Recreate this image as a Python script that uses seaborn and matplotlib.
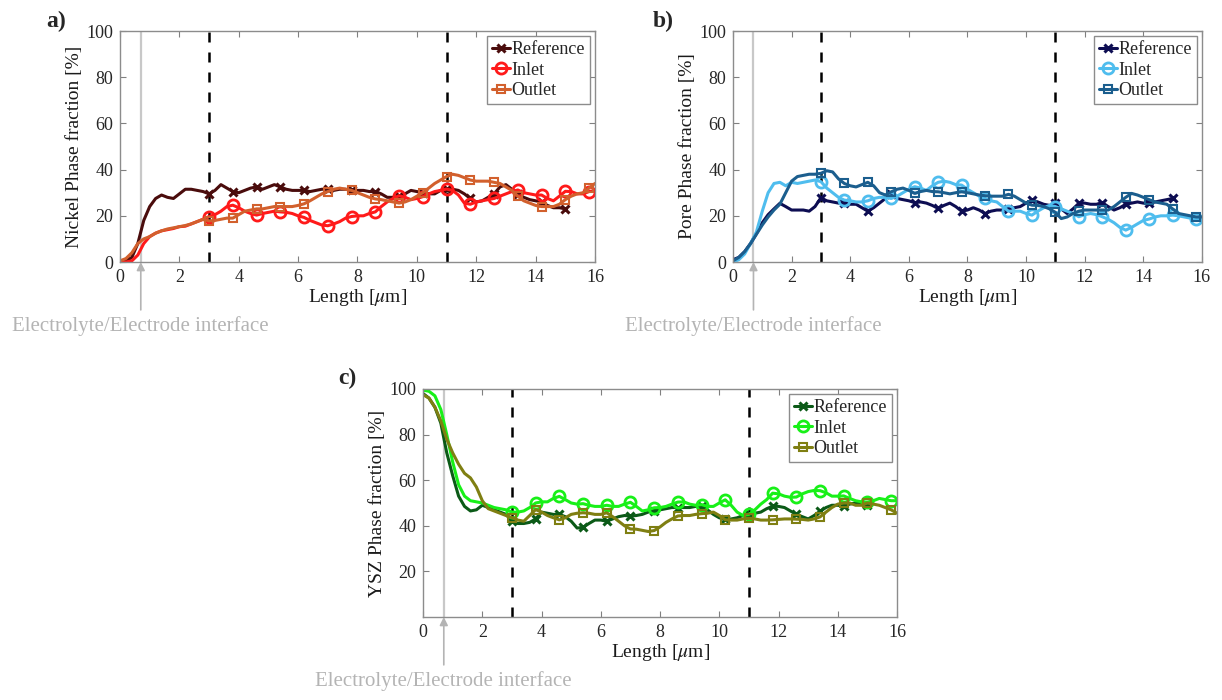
import numpy as np
import pandas as pd
import matplotlib
matplotlib.use("Agg")
import matplotlib.pyplot as plt
import seaborn as sns

# ---------------- data ----------------
STEP = 0.2  # sampling step of the profiles [um]

# panel a) Nickel
ni_reference = [0, 0.5, 2, 8, 18, 24, 27.5, 29, 28, 27.5, 29.5, 31.5, 31.5, 31, 30.5, 29.5, 31, 33.5, 32, 30.5,
                30, 31, 32, 32.5, 31.5, 32.5, 33.5, 32.5, 31.5, 31, 31, 31, 30.5, 31, 31.5, 31.5, 31, 31.5, 31.5, 31,
                31, 31, 30.5, 30.5, 29.5, 28, 28, 28.5, 29.5, 31, 30.5, 30, 29.5, 29.5, 31, 31.5, 31.5, 31, 29.5, 27.5,
                26, 26.5, 28, 29.5, 32.5, 33.5, 31.5, 29.5, 28, 27, 26.5, 26, 24.5, 23.5, 23.5, 23]
ni_inlet = [0, 0, 0.5, 3, 8, 11, 12.5, 13.5, 14, 14.5, 15.3, 15.5, 16.5, 17.5, 18.5, 19.7, 20.5, 22, 24, 24.6,
            23.5, 22, 21, 20.3, 21, 21.5, 22, 21.7, 21.5, 21, 20, 19.3, 18, 17, 16, 15.7, 16.5, 17.5, 19, 19.7,
            20, 20, 21, 21.7, 24, 26, 27.5, 28.7, 28, 27, 27.5, 28.3, 29.5, 30.5, 31, 31.6, 31, 29, 25.5, 25,
            26, 26.5, 27, 27.5, 28.5, 29.5, 30.5, 31.2, 30, 29.5, 29, 29, 27.5, 26.5, 28.5, 30.6, 30.5, 29.5, 29.5, 30.5,
            31]
ni_outlet = [0.5, 1.5, 4, 8, 10, 11, 12.5, 13.5, 14.3, 14.8, 15.3, 15.8, 16.5, 17.5, 18.5, 17.8, 18, 18.5, 19, 19,
             20.5, 22, 22.5, 23, 23, 23.5, 24, 24, 24, 24, 24.5, 25.2, 26.5, 28, 29.5, 30.5, 31.5, 32, 31.5, 31,
             30, 29, 28, 27.3, 27, 26.5, 26, 25.5, 26, 27, 28.5, 30, 32, 34, 35.5, 37, 38, 37.5, 36.5, 35.5,
             35, 35, 35, 34.5, 34, 32.5, 31, 28.5, 26.5, 25.5, 24.5, 24, 24, 24, 25, 27, 28.5, 29.5, 30, 32,
             34]

# panel b) Pore
pore_reference = [1, 2, 4.5, 8, 12.3, 17, 20.5, 23, 25.4, 24, 22.5, 22.5, 22.5, 22, 24, 27.8, 26.5, 26, 25.5, 25.4,
                  25, 25, 23.5, 22, 23.5, 25.5, 27.5, 29.3, 27.5, 27, 26.5, 25.7, 26, 25.5, 24.5, 23.2, 24.5, 25.5, 24, 22,
                  22.5, 23.5, 22.5, 21, 22, 22.5, 22.5, 23, 23.5, 24, 25.5, 26.8, 26, 25, 24.5, 25.4, 23, 21, 23, 25.4,
                  25.5, 25, 25, 25.7, 24, 22.5, 23.5, 25, 25.5, 26, 25.5, 25.4, 26, 26.5, 27, 27.5]
pore_inlet = [0, 1, 3.5, 8, 13, 22, 30, 34, 34.5, 33, 34.5, 34, 34.5, 35, 35.5, 34.8, 32, 30, 28, 26.8,
              26.5, 26, 26, 26.5, 27.5, 28, 28, 27.5, 28.5, 30, 31.5, 32.6, 32, 31, 33, 34.5, 35, 34.5, 33.5, 33.3,
              31.5, 30, 28.5, 27.5, 26.5, 26, 24, 22, 22, 22, 21, 20.3, 22, 23.5, 24.5, 24, 23, 22, 21, 19.6,
              20.5, 21, 20.5, 19.6, 18.5, 17, 15, 13.8, 15, 16.5, 18, 18.6, 19.5, 20, 20, 20.3, 20, 19.5, 19, 18.5,
              19]
pore_outlet = [0.5, 2, 4.5, 8, 12, 16, 19.5, 22.5, 25, 30, 35, 37, 37.5, 38, 38, 38.4, 39.5, 39, 36, 34,
               33, 32.5, 33.5, 34.5, 33, 30, 29, 30.4, 31.5, 32, 31, 29.7, 30.5, 31, 30.5, 30.4, 30, 29.5, 30, 30.4,
               30, 29.5, 29, 28.7, 28.5, 28.5, 28.5, 29.3, 28.5, 27, 25.5, 24.6, 24.5, 24, 23, 21.5, 18.8, 19.5, 21, 22,
               22.5, 22.5, 22.5, 22.5, 22.5, 24, 26, 28, 29.7, 29, 28, 27, 26, 25.5, 25, 23, 21, 20.5, 20, 19.5,
               19.5]

# panel c) YSZ
ysz_reference = [98, 96, 92, 85, 72, 62, 53, 48.5, 46.5, 47, 49, 48, 47, 46, 45, 42, 41, 41, 41.5, 43,
                 46, 45.5, 45, 45, 44, 42, 39, 39.3, 41, 42.5, 42.5, 42, 43, 44, 44.5, 44.3, 44.5, 45, 46, 46.4,
                 47, 47.5, 48, 48, 48, 48, 48.5, 48.6, 47, 45, 43.5, 42.9, 43, 43.5, 44.5, 45, 45.5, 46, 47.5, 48.6,
                 48.5, 48, 46.5, 45, 44, 43, 44.5, 46.4, 48, 49, 49, 48.6, 49.5, 50, 49.5, 49.3]
ysz_inlet = [99.5, 99, 97, 91, 80, 68, 58, 53, 51, 50.5, 50, 49, 48, 47.5, 47, 46, 46, 46.5, 48, 50,
             50.5, 50.5, 52, 52.9, 51.5, 50, 49.5, 49.7, 49, 48.5, 48.5, 49, 48.5, 48.5, 49.5, 50.3, 48.5, 46.5, 47, 47.9,
             48, 48.5, 49.5, 50.4, 50.5, 49.5, 49, 49.3, 48.5, 48.5, 50, 51.4, 49, 46, 44.5, 45, 47, 49.5, 51.5, 54.3,
             54, 53, 52.5, 52.6, 54, 55, 55.5, 55.4, 54.5, 53, 53, 53.1, 52, 51, 50.5, 50.4, 51, 52, 51.5, 51,
             51]
ysz_outlet = [97.5, 96, 92, 86, 78, 72, 67, 63, 61, 57, 51, 47.5, 46.5, 45.5, 44.5, 43.6, 42.5, 42, 44.5, 47.1,
              46, 44.5, 43.5, 42.6, 43.5, 45, 45.5, 45.7, 45.5, 45, 45, 45.7, 44, 42, 40, 38.6, 38.5, 38, 37.5, 37.9,
              39.5, 41.5, 43, 44.3, 44.5, 44.5, 45, 45.3, 45.5, 46, 44.5, 42.6, 42.5, 42.5, 43, 43.3, 43, 42.5, 42.5, 42.6,
              42.8, 43, 43, 42.9, 42.8, 42.5, 43, 43.9, 46, 48, 49.5, 50, 50, 49, 49, 50, 49.5, 49, 48, 47,
              45.5]

series_names = ["Reference", "Inlet", "Outlet"]
panel_letters = ["a)", "b)", "c)"]
y_labels = ["Nickel Phase fraction [%]", "Pore Phase fraction [%]", "YSZ Phase fraction [%]"]
x_label = r"Length [$\mu$m]"
interface_text = "Electrolyte/Electrode interface"
interface_pos = 0.7
zone_bounds = [3, 11]
x_ticks = [0, 2, 4, 6, 8, 10, 12, 14, 16]

panels = [
    dict(data=[ni_reference, ni_inlet, ni_outlet],
         colors=["#4a0c0c", "#ff1a1a", "#d2602d"], yticks=[0, 20, 40, 60, 80, 100]),
    dict(data=[pore_reference, pore_inlet, pore_outlet],
         colors=["#0d0d52", "#4fbdee", "#1b5e8e"], yticks=[0, 20, 40, 60, 80, 100]),
    dict(data=[ysz_reference, ysz_inlet, ysz_outlet],
         colors=["#0b5a17", "#18f018", "#7f7f12"], yticks=[20, 40, 60, 80, 100]),
]

# ---------------- style ----------------
sns.set_style("ticks")
plt.rcParams["font.family"] = ["Liberation Serif", "DejaVu Serif"]
plt.rcParams["mathtext.fontset"] = "stix"

fig = plt.figure(figsize=(12.22, 7.0), dpi=100)
axes_rects = [
    [0.0982, 0.6257, 0.3887, 0.3300],
    [0.5998, 0.6257, 0.3838, 0.3300],
    [0.3462, 0.1186, 0.3879, 0.3257],
]
label_pos = [(0.038, 0.984), (0.534, 0.984), (0.277, 0.474)]

markers = ["x", "o", "s"]
msizes = [6, 8, 6]
mews = [2.2, 2.0, 1.5]

for i, (p, rect) in enumerate(zip(panels, axes_rects)):
    ax = fig.add_axes(rect)
    for j, (vals, col) in enumerate(zip(p["data"], p["colors"])):
        df = pd.DataFrame({"Length": np.round(np.arange(len(vals)) * STEP, 1), "Value": vals})
        sns.lineplot(data=df, x="Length", y="Value", ax=ax, color=col, linewidth=2.2,
                     marker=markers[j], markersize=msizes[j], markevery=slice(15, None, 4),
                     markerfacecolor="none", markeredgecolor=col, markeredgewidth=mews[j],
                     label=series_names[j], estimator=None, sort=False)
    # interface line
    ax.axvline(interface_pos, color="#c8c8c8", lw=1.6, zorder=0)
    for b in zone_bounds:
        ax.axvline(b, color="black", lw=1.8, ls=(0, (4, 4)), zorder=1)
    ax.set_xlim(0, 16)
    ax.set_ylim(0, 100)
    ax.set_xticks(x_ticks)
    ax.set_yticks(p["yticks"])
    ax.tick_params(direction="in", length=4, width=0.8, colors="#808080", labelcolor="#262626",
                   labelsize=13, top=True, right=True, pad=5)
    for s in ax.spines.values():
        s.set_color("#8c8c8c")
        s.set_linewidth(1.0)
    ax.set_xlabel(x_label, fontsize=14, color="#1a1a1a", labelpad=1)
    ax.set_ylabel(y_labels[i], fontsize=14, color="#1a1a1a", labelpad=2)
    leg = ax.legend(loc="upper right", fontsize=13, handlelength=1.0, handletextpad=0.1,
                    borderpad=0.25, labelspacing=0.2, borderaxespad=0.3, fancybox=False,
                    framealpha=1, edgecolor="#8c8c8c")
    leg.get_frame().set_linewidth(1.0)
    ax.annotate(interface_text, xy=(interface_pos, 0), xycoords="data",
                xytext=(0, -46), textcoords="offset points", ha="center", va="center",
                fontsize=15, color="#b4b4b4", annotation_clip=False,
                arrowprops=dict(arrowstyle="-|>", color="#b4b4b4", lw=1.2,
                                mutation_scale=12, shrinkA=2, shrinkB=0))
    fig.text(label_pos[i][0], label_pos[i][1], panel_letters[i], fontsize=17,
             fontweight="bold", ha="left", va="top")

fig.savefig("out.png", dpi=100)
